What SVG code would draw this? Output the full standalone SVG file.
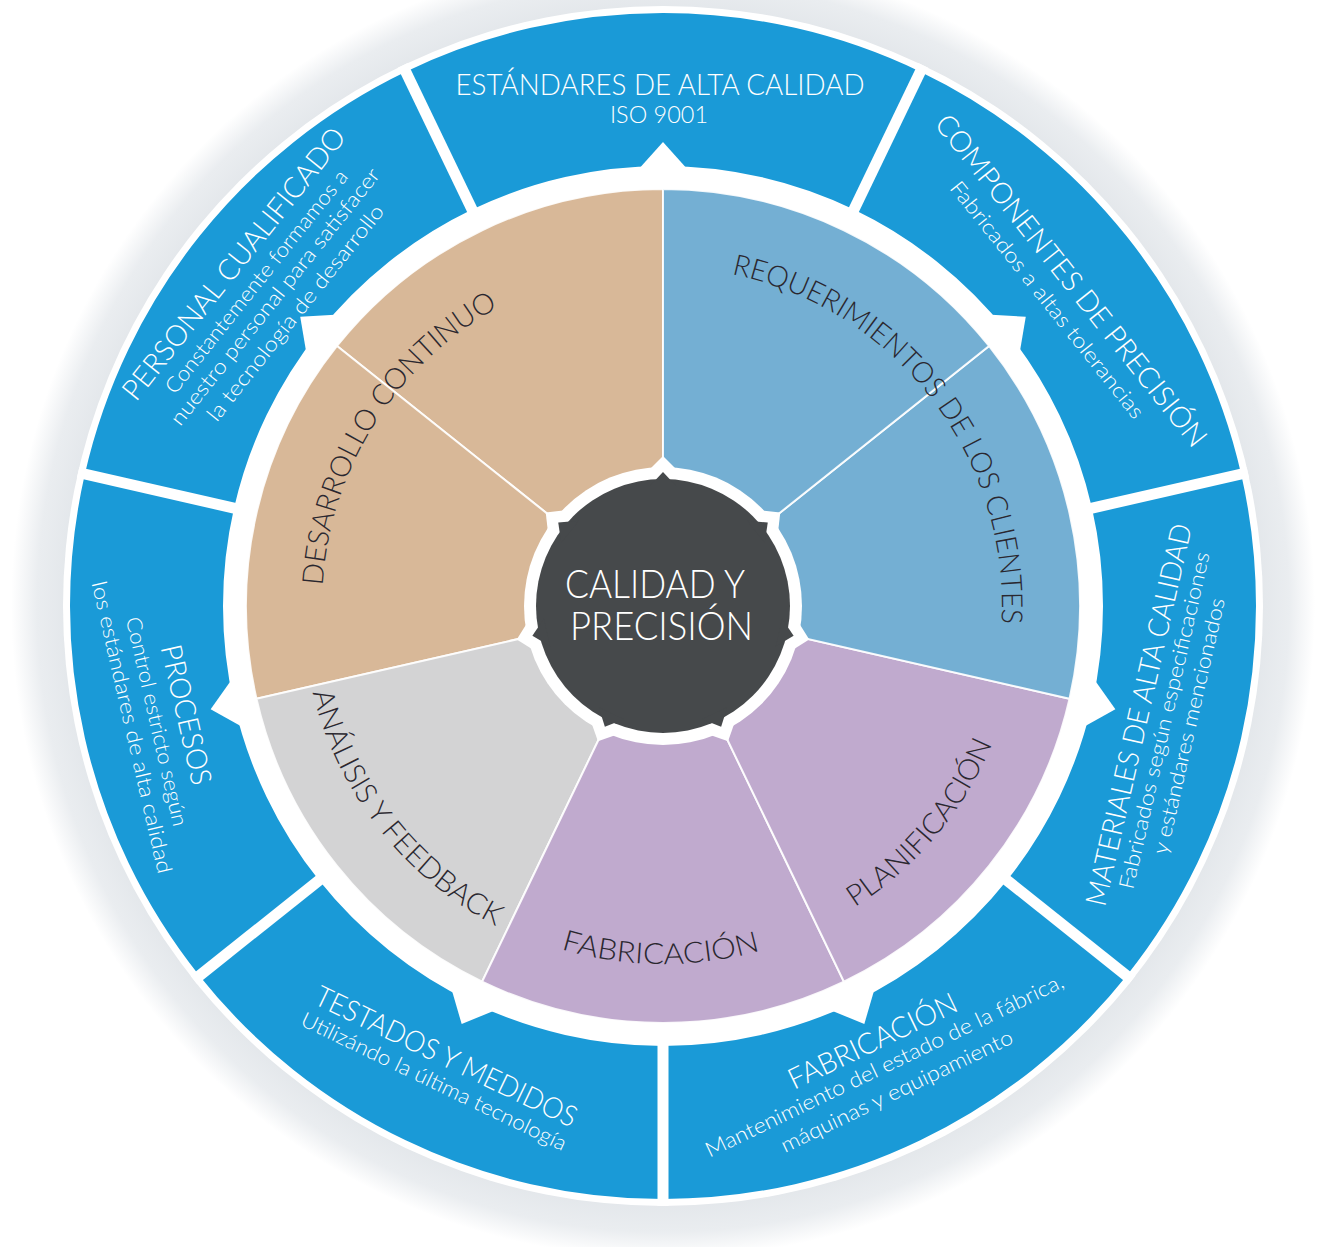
<svg xmlns="http://www.w3.org/2000/svg" width="1319" height="1247" viewBox="0 0 1319 1247">
<defs>
<style>
.ob{fill:#1A9AD7}
.t{font-family:Lato,'Open Sans','Liberation Sans',sans-serif;font-weight:300;fill:#ffffff;text-anchor:middle}
.ti{font-size:29px}
.st{font-size:21px}
.il{font-family:Lato,'Open Sans','Liberation Sans',sans-serif;font-weight:300;fill:#2A272F;font-size:29px}
.dv{stroke:#ffffff;stroke-width:11}
.wd{stroke:#ffffff;stroke-width:2;stroke-opacity:0.9}
.tan{fill:#D8B898}
.lb{fill:#74AFD3}
.pu{fill:#C0AACE}
.gr{fill:#D3D3D4}
.ct{font-family:Lato,'Open Sans','Liberation Sans',sans-serif;font-weight:300;font-size:39px;fill:#ffffff}
</style>
<radialGradient id="halo" gradientUnits="userSpaceOnUse" cx="663" cy="606" r="652">
<stop offset="0.9" stop-color="#E1E5E9"/>
<stop offset="0.96" stop-color="#EAEDF0"/>
<stop offset="1" stop-color="#FFFFFF"/>
</radialGradient>
<polygon id="notch" points="637,171 689,171 663,142" fill="#ffffff"/>
<polygon id="wb" points="640,479 686,479 663,456" fill="#ffffff"/>
<polygon id="db" points="649,487 677,487 663,472" fill="#46494B"/>
<path id="p-des" d="M 361.25 764.77 A 341 341 0 0 1 676.39 265.26" fill="none"/>
<path id="p-req" d="M 559.93 283.05 A 339 339 0 0 1 949.54 787.14" fill="none"/>
<path id="p-ana" d="M 327.93 471.64 A 361 361 0 0 0 714.18 963.35" fill="none"/>
<path id="p-pla" d="M 600.39 957.47 A 357 357 0 0 0 998.68 484.48" fill="none"/>
<path id="p-fab" d="M 351.72 782.83 A 358 358 0 0 0 971.78 787.16" fill="none"/>
</defs>
<rect width="1319" height="1247" fill="#ffffff"/>
<g id="halo-ring">
<circle cx="663" cy="606" r="652" fill="url(#halo)"/>
<circle cx="663" cy="606" r="600" fill="#ffffff"/>
</g>

<g id="outer-ring">
<g id="seg-estandares">
<path class="ob" d="M 405.71 71.73 A 593 593 0 0 1 920.29 71.73 L 853.91 209.57 A 440 440 0 0 0 472.09 209.57 Z"/>
<g transform="translate(663 606)">
<text class="t ti" x="-3" y="-511" textLength="409" lengthAdjust="spacingAndGlyphs">ESTÁNDARES DE ALTA CALIDAD</text>
<text class="t" style="font-size:23px" x="-4" y="-483" textLength="98" lengthAdjust="spacingAndGlyphs">ISO 9001</text>
</g>
</g>
<g id="seg-componentes">
<path class="ob" d="M 920.29 71.73 A 593 593 0 0 1 1241.13 474.05 L 1091.97 508.09 A 440 440 0 0 0 853.91 209.57 Z"/>
<g transform="translate(663 606) rotate(51.4286)">
<text class="t ti" x="0" y="-512" textLength="416" lengthAdjust="spacingAndGlyphs">COMPONENTES DE PRECISIÓN</text>
<text class="t st" x="0" y="-484" textLength="297" lengthAdjust="spacingAndGlyphs">Fabricados a altas tolerancias</text>
</g>
</g>
<g id="seg-materiales">
<path class="ob" d="M 1241.13 474.05 A 593 593 0 0 1 1126.63 975.73 L 1007.01 880.34 A 440 440 0 0 0 1091.97 508.09 Z"/>
<g transform="translate(663 606) rotate(-77.1429)">
<text class="t ti" x="0" y="498" textLength="391" lengthAdjust="spacingAndGlyphs">MATERIALES DE ALTA CALIDAD</text>
<text class="t st" x="0" y="521.5" textLength="345" lengthAdjust="spacingAndGlyphs">Fabricados según especificaciones</text>
<text class="t st" x="0" y="546.6" textLength="262" lengthAdjust="spacingAndGlyphs">y estándares mencionados</text>
</g>
</g>
<g id="seg-fabricacion">
<path class="ob" d="M 1126.63 975.73 A 593 593 0 0 1 663 1199 L 663 1046 A 440 440 0 0 0 1007.01 880.34 Z"/>
<g transform="translate(663 606) rotate(-25.7143)">
<text class="t ti" x="0" y="493" textLength="184" lengthAdjust="spacingAndGlyphs">FABRICACIÓN</text>
<text class="t st" x="0" y="517.4" textLength="395" lengthAdjust="spacingAndGlyphs">Mantenimiento del estado de la fábrica,</text>
<text class="t st" x="0" y="545.7" textLength="255" lengthAdjust="spacingAndGlyphs">máquinas y equipamiento</text>
</g>
</g>
<g id="seg-testados">
<path class="ob" d="M 663 1199 A 593 593 0 0 1 199.37 975.73 L 318.99 880.34 A 440 440 0 0 0 663 1046 Z"/>
<g transform="translate(663 606) rotate(25.7143)">
<text class="t ti" x="0" y="510" textLength="287" lengthAdjust="spacingAndGlyphs">TESTADOS Y MEDIDOS</text>
<text class="t st" x="0" y="535" textLength="292" lengthAdjust="spacingAndGlyphs">Utilizándo la última tecnología</text>
</g>
</g>
<g id="seg-procesos">
<path class="ob" d="M 199.37 975.73 A 593 593 0 0 1 84.87 474.05 L 234.03 508.09 A 440 440 0 0 0 318.99 880.34 Z"/>
<g transform="translate(663 606) rotate(77.1429)">
<text class="t ti" x="0" y="499" textLength="143" lengthAdjust="spacingAndGlyphs">PROCESOS</text>
<text class="t st" x="0" y="526.6" textLength="214" lengthAdjust="spacingAndGlyphs">Control estricto según</text>
<text class="t st" x="0" y="552" textLength="299" lengthAdjust="spacingAndGlyphs">los estándares de alta calidad</text>
</g>
</g>
<g id="seg-personal">
<path class="ob" d="M 84.87 474.05 A 593 593 0 0 1 405.71 71.73 L 472.09 209.57 A 440 440 0 0 0 234.03 508.09 Z"/>
<g transform="translate(663 606) rotate(-51.4286)">
<text class="t ti" x="0" y="-539" textLength="339" lengthAdjust="spacingAndGlyphs">PERSONAL CUALIFICADO</text>
<text class="t st" x="0" y="-513" textLength="279" lengthAdjust="spacingAndGlyphs">Constantemente formamos a</text>
<text class="t st" x="0" y="-489" textLength="322" lengthAdjust="spacingAndGlyphs">nuestro personal para satisfacer</text>
<text class="t st" x="0" y="-463" textLength="270" lengthAdjust="spacingAndGlyphs">la tecnología de desarrollo</text>
</g>
</g>
</g>

<g id="outer-dividers">
<line class="dv" x1="849.57" y1="218.58" x2="923.33" y2="65.42"/>
<line class="dv" x1="1082.22" y1="510.32" x2="1247.96" y2="472.49"/>
<line class="dv" x1="999.19" y1="874.10" x2="1132.10" y2="980.09"/>
<line class="dv" x1="663" y1="1036" x2="663" y2="1206"/>
<line class="dv" x1="326.81" y1="874.10" x2="193.90" y2="980.09"/>
<line class="dv" x1="243.78" y1="510.32" x2="78.04" y2="472.49"/>
<line class="dv" x1="476.43" y1="218.58" x2="402.67" y2="65.42"/>
</g>

<g id="connectors">
<use href="#notch"/>
<use href="#notch" transform="rotate(51.4286 663 606)"/>
<use href="#notch" transform="rotate(102.8571 663 606)"/>
<use href="#notch" transform="rotate(154.2857 663 606)"/>
<use href="#notch" transform="rotate(205.7143 663 606)"/>
<use href="#notch" transform="rotate(257.1429 663 606)"/>
<use href="#notch" transform="rotate(308.5714 663 606)"/>
</g>

<g id="inner-ring">
<g id="inner-desarrollo">
<path class="tan wd" d="M 663 606 L 663 189 A 417 417 0 0 0 336.98 346 Z"/>
<path class="tan wd" d="M 663 606 L 336.98 346 A 417 417 0 0 0 256.46 698.79 Z"/>
<text class="il" text-anchor="middle"><textPath href="#p-des" startOffset="50%" textLength="343" lengthAdjust="spacingAndGlyphs">DESARROLLO CONTINUO</textPath></text>
</g>
<g id="inner-analisis">
<path class="gr wd" d="M 663 606 L 256.46 698.79 A 417 417 0 0 0 482.07 981.70 Z"/>
<text class="il" text-anchor="middle"><textPath href="#p-ana" startOffset="50%" textLength="306" lengthAdjust="spacingAndGlyphs">ANÁLISIS Y FEEDBACK</textPath></text>
</g>
<g id="inner-fabricacion">
<path class="pu wd" d="M 663 606 L 482.07 981.70 A 417 417 0 0 0 843.93 981.70 Z"/>
<text class="il" text-anchor="middle"><textPath href="#p-fab" startOffset="50%" textLength="202" lengthAdjust="spacingAndGlyphs">FABRICACIÓN</textPath></text>
</g>
<g id="inner-planificacion">
<path class="pu wd" d="M 663 606 L 843.93 981.70 A 417 417 0 0 0 1069.54 698.79 Z"/>
<text class="il" text-anchor="middle"><textPath href="#p-pla" startOffset="50%" textLength="217" lengthAdjust="spacingAndGlyphs">PLANIFICACIÓN</textPath></text>
</g>
<g id="inner-requerimientos">
<path class="lb wd" d="M 663 606 L 1069.54 698.79 A 417 417 0 0 0 989.02 346 Z"/>
<path class="lb wd" d="M 663 606 L 989.02 346 A 417 417 0 0 0 663 189 Z"/>
<text class="il"><textPath href="#p-req" startOffset="173.7" textLength="241.4" lengthAdjust="spacingAndGlyphs">REQUERIMIENTOS</textPath></text>
<text class="il"><textPath href="#p-req" startOffset="423.4" textLength="231.3" lengthAdjust="spacingAndGlyphs">DE LOS CLIENTES</textPath></text>
</g>
</g>

<g id="center">
<circle cx="663" cy="606" r="139" fill="#ffffff"/>
<use href="#wb"/>
<use href="#wb" transform="rotate(51.4286 663 606)"/>
<use href="#wb" transform="rotate(102.8571 663 606)"/>
<use href="#wb" transform="rotate(154.2857 663 606)"/>
<use href="#wb" transform="rotate(205.7143 663 606)"/>
<use href="#wb" transform="rotate(257.1429 663 606)"/>
<use href="#wb" transform="rotate(308.5714 663 606)"/>
<circle cx="663" cy="606" r="127" fill="#46494B"/>
<use href="#db"/>
<use href="#db" transform="rotate(51.4286 663 606)"/>
<use href="#db" transform="rotate(102.8571 663 606)"/>
<use href="#db" transform="rotate(154.2857 663 606)"/>
<use href="#db" transform="rotate(205.7143 663 606)"/>
<use href="#db" transform="rotate(257.1429 663 606)"/>
<use href="#db" transform="rotate(308.5714 663 606)"/>
<text class="ct" x="565" y="598" textLength="180" lengthAdjust="spacingAndGlyphs">CALIDAD Y</text>
<text class="ct" x="570" y="640" textLength="183" lengthAdjust="spacingAndGlyphs">PRECISIÓN</text>
</g>
</svg>
